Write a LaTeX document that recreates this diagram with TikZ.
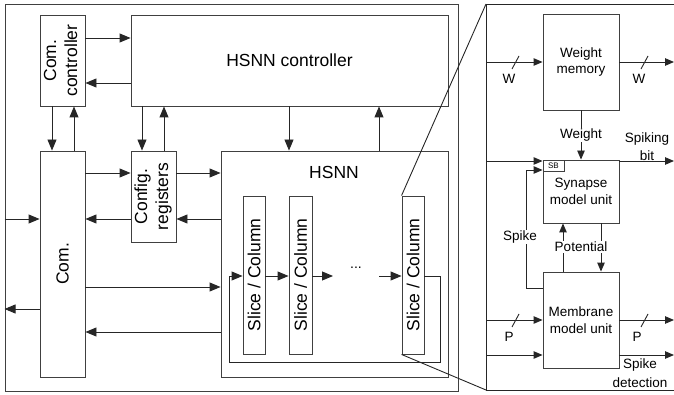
\documentclass[tikz,border=0pt]{standalone}
\usepackage{fontspec}
\setmainfont{Liberation Sans}
\usetikzlibrary{arrows.meta,calc}
\begin{document}
\begin{tikzpicture}[x=1pt,y=-1pt]
\tikzset{
  blk/.style={draw=black!75, line width=0.9pt, inner sep=0pt, align=center, font=\fontsize{17.5}{21}\selectfont},
  rblk/.style={blk, font=\fontsize{13.5}{16.5}\selectfont},
  wire/.style={draw=black!85, line width=0.9pt},
  arr/.style={wire, -{Triangle[length=11pt,width=9pt]}},
  rarr/.style={wire, -{Triangle[length=9pt,width=7.5pt]}},
  lbl/.style={font=\fontsize{13.5}{16}\selectfont, inner sep=1pt, fill=white},
  txt/.style={font=\fontsize{13.5}{16}\selectfont, inner sep=0pt, align=center},
}
\useasboundingbox (0,0) rectangle (674,395);
% left system
\node[blk, minimum width=453pt, minimum height=387pt] (sys) at (231.5,197.5) {};
\node[blk, minimum width=45pt, minimum height=91pt] (cc) at (62.5,60.5)
  {\rotatebox{90}{\begin{tabular}{@{}c@{}}Com.\\controller\end{tabular}}};
\node[blk, minimum width=317pt, minimum height=91pt] (hc) at (289.5,60.5) {HSNN controller};
\node[blk, minimum width=45pt, minimum height=226pt] (com) at (62.5,264) {\rotatebox{90}{Com.}};
\node[blk, minimum width=45pt, minimum height=91pt] (cfg) at (153.5,196.5)
  {\rotatebox{90}{\begin{tabular}{@{}c@{}}Config.\\registers\end{tabular}}};
\node[blk, minimum width=227pt, minimum height=226pt] (hsnn) at (334.5,264) {};
\node[font=\fontsize{17.5}{21}\selectfont, inner sep=0pt] (hl) at (334,172) {HSNN};
\node[blk, minimum width=22pt, minimum height=158pt] (s1) at (254,275) {\rotatebox{90}{Slice / Column}};
\node[blk, minimum width=23pt, minimum height=158pt] (s2) at (300.5,275) {\rotatebox{90}{Slice / Column}};
\node[blk, minimum width=22pt, minimum height=158pt] (s3) at (413,275) {\rotatebox{90}{Slice / Column}};
\node[font=\fontsize{14}{14}\selectfont, inner sep=0pt] (dots) at (356,268) {...};
\coordinate (g1) at (333,276);
\coordinate (g2) at (379,276);

% left arrows
\draw[arr] (cc.east |- 0,38) -- (hc.west |- 0,38);
\draw[arr] (hc.west |- 0,83) -- (cc.east |- 0,83);
\draw[arr] (cc.south -| 52,0) -- (com.north -| 52,0);
\draw[arr] (com.north -| 74,0) -- (cc.south -| 74,0);
\draw[arr] (hc.south -| 142,0) -- (cfg.north -| 142,0);
\draw[arr] (cfg.north -| 164,0) -- (hc.south -| 164,0);
\draw[arr] (hc.south -| 289,0) -- (hsnn.north -| 289,0);
\draw[arr] (hsnn.north -| 379,0) -- (hc.south -| 379,0);
\draw[arr] (com.east |- 0,173) -- (cfg.west |- 0,173);
\draw[arr] (cfg.east |- 0,173) -- (hsnn.west |- 0,173);
\draw[arr] (hsnn.west |- 0,219) -- (cfg.east |- 0,219);
\draw[arr] (cfg.west |- 0,219) -- (com.east |- 0,219);
\draw[arr] (sys.west |- 0,219) -- (com.west |- 0,219);
\draw[arr] (com.west |- 0,309) -- (sys.west |- 0,309);
\draw[arr] (com.east |- 0,287) -- (hsnn.west |- 0,287);
\draw[arr] (hsnn.west |- 0,332) -- (com.east |- 0,332);
\draw[arr] (s1.east |- 0,276) -- (s2.west |- 0,276);
\draw[arr] (s2.east |- 0,276) -- (g1);
\draw[arr] (g2) -- (s3.west |- 0,276);
\draw[arr] (s3.east |- 0,276) -- (440,276) -- (440,362) -- (229,362) -- (229,276) -- (s1.west |- 0,276);

% right panel
\coordinate (ptl) at (486,4);
\coordinate (pbl) at (486,390);
\coordinate (ptr) at (674,4);
\coordinate (pbr) at (674,390);
\draw[wire] (ptr) -- (ptl) -- (pbl) -- (pbr);
\draw[wire] (s3.north west) -- (ptl);
\draw[wire] (s3.south west) -- (pbl);

\node[rblk, minimum width=76pt, minimum height=96pt] (wm) at (581,62) {Weight\\memory};
\node[rblk, minimum width=76pt, minimum height=63pt] (syn) at (581,191.5) {Synapse\\model unit};
\node[draw=black!75, line width=0.7pt, minimum width=21pt, minimum height=11pt, inner sep=0pt,
  font=\fontsize{8}{9}\selectfont, anchor=north west] (sb) at (syn.north west) {SB};
\node[rblk, minimum width=76pt, minimum height=96pt] (mem) at (581,320) {Membrane\\model unit};

\coordinate (wi) at (486,62);
\coordinate (wo) at (674,62);
\coordinate (sbi) at (486,161);
\coordinate (so) at (674,161);
\coordinate (pi) at (486,320);
\coordinate (po) at (674,320);
\coordinate (ci) at (486,355);
\coordinate (co) at (674,355);

\draw[rarr] (wi) -- (wm.west |- wi);
\draw[wire] (512,69) -- (519,56);
\node[txt] (w1) at (509,79) {W};
\draw[rarr] (wm.east |- wo) -- (wo);
\draw[wire] (641,69) -- (648,56);
\node[txt] (w2) at (639,79) {W};

\draw[rarr] (wm.south) -- node[lbl] {Weight} (syn.north);
\draw[rarr] (sbi) -- (sb.west |- sbi);
\draw[rarr] (mem.west |- 0,288) -- (526,288) -- (526,170) -- (sb.west |- 0,170);
\node[lbl] (spk) at (520,237) {Spike};
\draw[rarr] (syn.east |- so) -- (so);
\node[txt, font=\fontsize{13.5}{18}\selectfont] (sbit) at (647,147) {Spiking\\bit};

\draw[rarr] (mem.north -| 563,0) -- (syn.south -| 563,0);
\draw[rarr] (syn.south -| 601,0) -- (mem.north -| 601,0);
\node[lbl] (pot) at (581,247) {Potential};

\draw[rarr] (pi) -- (mem.west |- pi);
\draw[wire] (512,327) -- (519,314);
\node[txt] (p1) at (509,337) {P};
\draw[rarr] (ci) -- (mem.west |- ci);
\draw[rarr] (mem.east |- po) -- (po);
\draw[wire] (641,327) -- (648,314);
\node[txt] (p2) at (637,337) {P};
\draw[rarr] (mem.east |- co) -- (co);
\node[txt, font=\fontsize{13.5}{19}\selectfont] (sdet) at (640,373) {Spike\\detection};
\end{tikzpicture}
\end{document}
